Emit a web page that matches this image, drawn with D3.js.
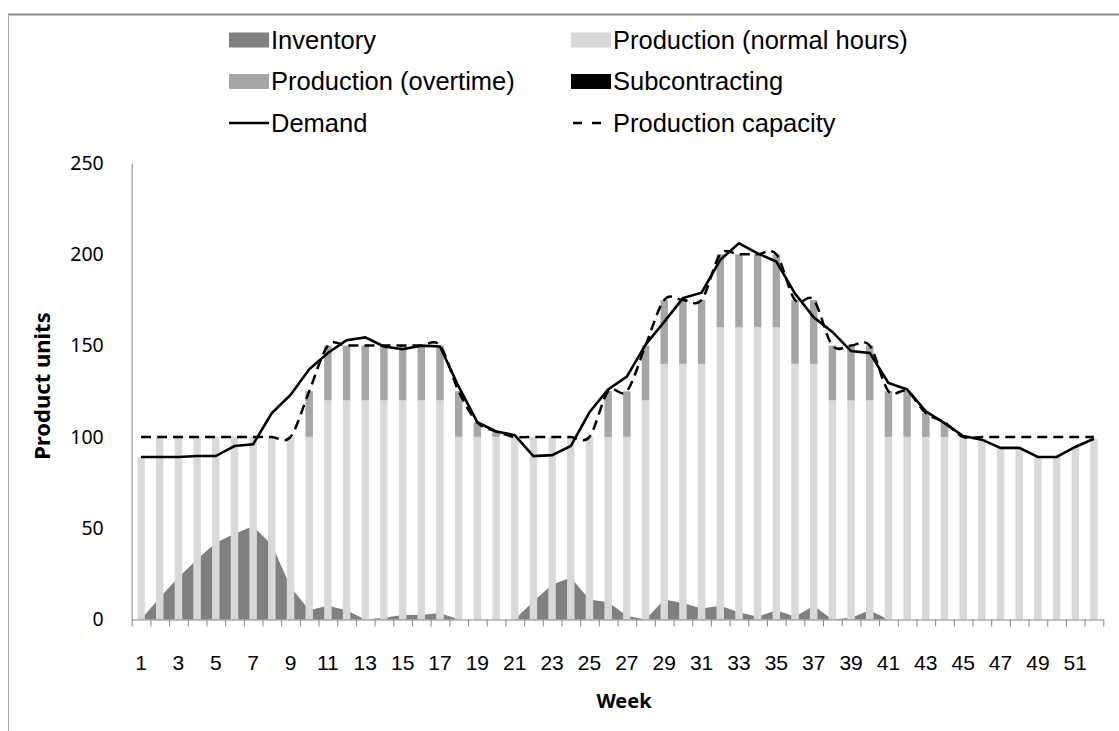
<!DOCTYPE html>
<html>
<head>
<meta charset="utf-8">
<title>Production plan per week</title>
<script src="https://d3js.org/d3.v7.min.js"></script>
<style>
  body { margin: 0; background: #fff; }
  text { fill: #000; }
</style>
</head>
<body>
<svg width="1119" height="731"></svg>
<script>
var weeks = d3.range(1, 53);
var yTicks = [0, 50, 100, 150, 200, 250];

var demand = [89, 89, 89, 89.5, 89.5, 95, 96, 113, 123, 137,
  146, 153, 154.5, 149.5, 148, 150, 149.5, 127.5, 108, 103,
  101, 89.5, 90, 95, 113.5, 126, 133, 150.5, 163, 176,
  179, 197, 206, 200.5, 196, 178.5, 165.5, 157.5, 147, 146,
  129.5, 126, 114, 107.5, 100.5, 98.5, 94, 94, 89, 89,
  94.5, 99];
var normalHours = [89, 100, 100, 100, 100, 100, 100, 100, 100, 100,
  120, 120, 120, 120, 120, 120, 120, 100, 100, 100,
  100, 100, 100, 100, 100, 100, 100, 120, 140, 140,
  140, 160, 160, 160, 160, 140, 140, 120, 120, 120,
  100, 100, 100, 100, 100, 99, 94, 94, 89, 89,
  94.5, 99];
var overtime = [0, 0, 0, 0, 0, 0, 0, 0, 0, 25,
  30, 30, 30, 30, 30, 30, 30, 25, 8, 3,
  0, 0, 0, 0, 0, 25, 25, 30, 35, 35,
  35, 40, 40, 40, 40, 35, 35, 30, 30, 30,
  25, 25, 13, 8, 0, 0, 0, 0, 0, 0,
  0, 0];
var subcontracting = [0, 0, 0, 0, 0, 0, 0, 0, 0, 0,
  0, 0, 0, 0, 0, 0, 0, 0, 0, 0,
  0, 0, 0, 0, 0, 0, 0, 0, 0, 0,
  0, 0, 0, 0, 0, 0, 0, 0, 0, 0,
  0, 0, 0, 0, 0, 0, 0, 0, 0, 0,
  0, 0];
var inventory = [0, 12, 23, 33, 42, 47, 51, 41, 18, 5,
  7.5, 5, 0, 1, 2.5, 2.5, 3.5, 0, 0, 0,
  0, 10, 19, 23, 11, 9.5, 2, 0, 11, 9,
  6, 7.5, 4, 1.5, 5, 1.5, 7.5, 0, 1, 5,
  0, 0, 0, 0, 0, 0, 0, 0, 0, 0,
  0, 0];
var capacity = [100, 100, 100, 100, 100, 100, 100, 100, 100, 125,
  150, 150, 150, 150, 150, 150, 150, 125, 108, 103,
  100, 100, 100, 100, 100, 125, 125, 150, 175, 175,
  175, 200, 200, 200, 200, 175, 175, 150, 150, 150,
  125, 125, 113, 108, 100, 100, 100, 100, 100, 100,
  100, 100];

var colors = {
  inventory: "#808080",
  normal: "#d9d9d9",
  overtime: "#a6a6a6",
  sub: "#000000"
};
var axisColor = "#868686";
var font = "'Liberation Sans', Arial, sans-serif";

var svg = d3.select("svg");

// frame of the chart area
svg.append("line").attr("x1", 8).attr("x2", 1119).attr("y1", 14.5).attr("y2", 14.5)
  .attr("stroke", "#8a8a8a").attr("stroke-width", 2);
svg.append("line").attr("x1", 8.5).attr("x2", 8.5).attr("y1", 14).attr("y2", 731)
  .attr("stroke", "#a6a6a6").attr("stroke-width", 1);

var x = d3.scaleBand().domain(weeks).range([131.7, 1103.3])
  .paddingInner(0.6).paddingOuter(0.3);
var y = d3.scaleLinear().domain([0, 250]).range([619.5, 163]);
function cx(w) { return x(w) + x.bandwidth() / 2; }

// inventory area (behind the columns)
var area = d3.area()
  .x(function(d, i) { return cx(weeks[i]); })
  .y0(y(0))
  .y1(function(d) { return y(d); });
svg.append("path").datum(inventory)
  .attr("d", area)
  .attr("fill", colors.inventory);

// stacked production columns
var table = weeks.map(function(w, i) {
  return { week: w, normal: normalHours[i], overtime: overtime[i], sub: subcontracting[i] };
});
var stack = d3.stack().keys(["normal", "overtime", "sub"]);
svg.append("g").selectAll("g")
  .data(stack(table))
  .enter().append("g")
  .attr("fill", function(d) { return colors[d.key]; })
  .selectAll("rect")
  .data(function(d) { return d; })
  .enter().append("rect")
  .attr("x", function(d) { return x(d.data.week); })
  .attr("width", x.bandwidth())
  .attr("y", function(d) { return y(d[1]); })
  .attr("height", function(d) { return y(d[0]) - y(d[1]); });

// axes
var xb = d3.scaleLinear().domain([0, 52]).range(x.range());
svg.append("g")
  .attr("transform", "translate(0," + y(0) + ")")
  .call(d3.axisBottom(xb).tickValues(d3.range(0, 53)).tickSize(7).tickFormat("").tickSizeOuter(0))
  .call(function(g) {
    g.selectAll("path, line").attr("stroke", axisColor);
  });

svg.append("g")
  .attr("transform", "translate(0," + y(0) + ")")
  .call(d3.axisBottom(x).tickValues(weeks.filter(function(w) { return w % 2 === 1; }))
    .tickSize(0).tickPadding(36))
  .call(function(g) {
    g.select(".domain").remove();
    g.selectAll("text").attr("font-family", font).attr("font-size", 21).attr("fill", "#000");
  });

svg.append("g")
  .attr("transform", "translate(" + x.range()[0] + ",0)")
  .call(d3.axisLeft(y).tickValues(yTicks).tickSize(0).tickPadding(28))
  .call(function(g) {
    g.select(".domain").attr("stroke", axisColor);
    g.selectAll("text").attr("font-family", "'Noto Sans', sans-serif").attr("font-size", 19.5).attr("fill", "#000");
  });

// lines
var demandLine = d3.line()
  .x(function(d, i) { return cx(weeks[i]); })
  .y(function(d) { return y(d); });
var capacityLine = d3.line()
  .x(function(d, i) { return cx(weeks[i]); })
  .y(function(d) { return y(d); })
  .curve(d3.curveCardinal.tension(0));

svg.append("path").datum(capacity)
  .attr("d", capacityLine)
  .attr("fill", "none").attr("stroke", "#000").attr("stroke-width", 2.5)
  .attr("stroke-dasharray", "10,6");
svg.append("path").datum(demand)
  .attr("d", demandLine)
  .attr("fill", "none").attr("stroke", "#000").attr("stroke-width", 2.6);

// axis titles
svg.append("text")
  .attr("transform", "translate(50,386) rotate(-90)")
  .attr("text-anchor", "middle")
  .attr("font-family", "'Noto Sans', sans-serif").attr("font-weight", "bold").attr("font-size", 22)
  .text("Product units");
svg.append("text")
  .attr("x", 624).attr("y", 708)
  .attr("text-anchor", "middle")
  .attr("font-family", "'Noto Sans', sans-serif").attr("font-weight", "bold").attr("font-size", 20)
  .text("Week");

// legend
var legendItems = [
  { label: "Inventory", type: "box", color: colors.inventory, col: 0, row: 0 },
  { label: "Production (normal hours)", type: "box", color: colors.normal, col: 1, row: 0 },
  { label: "Production (overtime)", type: "box", color: colors.overtime, col: 0, row: 1 },
  { label: "Subcontracting", type: "box", color: colors.sub, col: 1, row: 1 },
  { label: "Demand", type: "line", col: 0, row: 2 },
  { label: "Production capacity", type: "dash", col: 1, row: 2 }
];
var colX = [229, 571];
var rowY = [40, 81.5, 123];
var lg = svg.append("g").selectAll("g")
  .data(legendItems)
  .enter().append("g")
  .attr("transform", function(d) { return "translate(" + colX[d.col] + "," + rowY[d.row] + ")"; });
lg.filter(function(d) { return d.type === "box"; })
  .append("rect")
  .attr("x", 0).attr("y", -7.5).attr("width", 40).attr("height", 15)
  .attr("fill", function(d) { return d.color; });
lg.filter(function(d) { return d.type !== "box"; })
  .append("line")
  .attr("x1", function(d) { return d.type === "dash" ? 2 : 0; })
  .attr("x2", 40).attr("y1", 0).attr("y2", 0)
  .attr("stroke", "#000").attr("stroke-width", 2.6)
  .attr("stroke-dasharray", function(d) { return d.type === "dash" ? "9,10" : null; });
lg.append("text")
  .attr("x", 42).attr("y", 0).attr("dy", "0.35em")
  .attr("font-family", font).attr("font-size", 25.5)
  .text(function(d) { return d.label; });
</script>
</body>
</html>
